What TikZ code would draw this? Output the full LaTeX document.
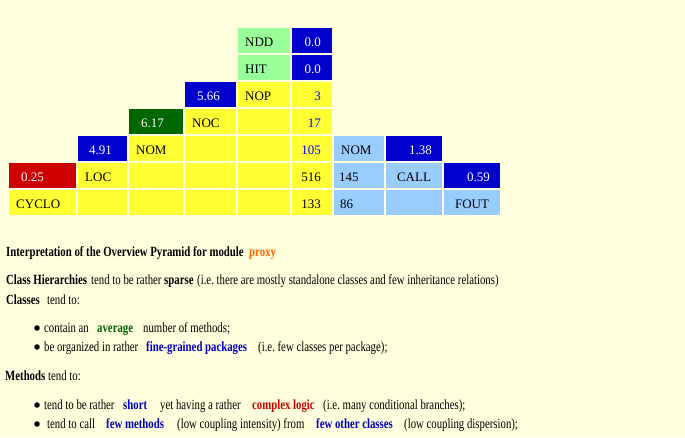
\documentclass[tikz,border=0pt]{standalone}
\usepackage{fontspec}
\setmainfont{Liberation Serif}
\newfontfamily\notefont[FakeStretch=0.77]{Liberation Serif}
\usetikzlibrary{positioning}
\frenchspacing

\definecolor{pagebg}{HTML}{FFFFDD}
\definecolor{cellyellow}{HTML}{FFFF33}
\definecolor{cellgreen}{HTML}{99FF99}
\definecolor{cellblue}{HTML}{0000CC}
\definecolor{celldkgreen}{HTML}{006600}
\definecolor{cellred}{HTML}{CC0000}
\definecolor{cellltblue}{HTML}{99CCFF}
\definecolor{numblue}{HTML}{0000FF}
\definecolor{wordorange}{HTML}{FF6600}
\definecolor{wordgreen}{HTML}{006600}
\definecolor{wordblue}{HTML}{0000CC}
\definecolor{wordred}{HTML}{CC0000}

\tikzset{
  cell/.style={anchor=north west, minimum height=25pt, inner sep=0pt, outer sep=0pt},
  celltext/.style={inner sep=0pt, font=\fontsize{13}{15}\selectfont},
  note/.style={anchor=base west, inner sep=0pt, font=\notefont\fontsize{14}{16}\selectfont},
  notebold/.style={note, font=\notefont\fontsize{14}{16}\selectfont\bfseries},
  dot/.style={circle, fill=black, inner sep=0pt, minimum size=5.6pt},
}

\begin{document}
\begin{tikzpicture}[x=1pt, y=-1pt]
\fill[pagebg] (0,0) rectangle (685,437);
\useasboundingbox (0,0) rectangle (685,437);
% column left edges and widths of the pyramid
\def\colx{{9,78,129,185,238,292,334,386,444}}
\def\colw{{67,49,54,51,52,40,50,56,56}}
% pyramid cells
\foreach \c/\r/\clr in {4/0/cellgreen,5/0/cellblue,
    4/1/cellgreen,5/1/cellblue,
    3/2/cellblue,4/2/cellyellow,5/2/cellyellow,
    2/3/celldkgreen,3/3/cellyellow,4/3/cellyellow,5/3/cellyellow,
    1/4/cellblue,2/4/cellyellow,3/4/cellyellow,4/4/cellyellow,5/4/cellyellow,6/4/cellltblue,7/4/cellblue,
    0/5/cellred,1/5/cellyellow,2/5/cellyellow,3/5/cellyellow,4/5/cellyellow,5/5/cellyellow,6/5/cellltblue,7/5/cellltblue,8/5/cellblue,
    0/6/cellyellow,1/6/cellyellow,2/6/cellyellow,3/6/cellyellow,4/6/cellyellow,5/6/cellyellow,6/6/cellltblue,7/6/cellltblue,8/6/cellltblue} {
  \pgfmathsetmacro{\cx}{\colx[\c]}
  \pgfmathsetmacro{\cw}{\colw[\c]}
  \node[cell, fill=\clr, minimum width=\cw pt] (c\c\r) at (\cx,28+27*\r) {};
}
% left aligned labels
\foreach \nm/\dx/\txt/\tc in {40/7/NDD/black,41/7/HIT/black,42/7/NOP/black,33/7/NOC/black,
    24/7/NOM/black,15/7/LOC/black,06/7/CYCLO/black,64/7/NOM/black,65/5/145/black,66/6/86/black,
    05/12/0.25/white,14/11/4.91/white,23/12/6.17/white,32/12/5.66/white} {
  \node[celltext, text=\tc, anchor=base west] (t\nm) at ([shift={(\dx,18)}]c\nm.north west) {\txt};
}
% right aligned values
\foreach \nm/\dx/\txt/\tc in {50/11/0.0/white,51/11/0.0/white,52/11/3/numblue,53/11/17/numblue,
    54/11/105/numblue,55/11/516/black,56/11/133/black,74/10/1.38/white,85/10/0.59/white} {
  \node[celltext, text=\tc, anchor=base east] (t\nm) at ([shift={(-\dx,18)}]c\nm.north east) {\txt};
}
% centred labels
\foreach \nm/\txt in {75/CALL,86/FOUT} {
  \node[celltext, anchor=base] (t\nm) at ([shift={(0,18)}]c\nm.north) {\txt};
}
% interpretation
\node[notebold] (head) at (6,256) {Interpretation of the Overview Pyramid for module};
\node[notebold, text=wordorange] (modname) at (249,256) {proxy};
\node[notebold] (hier) at (6,284) {Class Hierarchies};
\node[note] (hierA) at (91,284) {tend to be rather};
\node[notebold] (hierB) at (164,284) {sparse};
\node[note] (hierC) at (197,284) {(i.e. there are mostly standalone classes and few inheritance relations)};
\node[notebold] (cls) at (6,304) {Classes};
\node[note] (clsA) at (47,304) {tend to:};
\node[dot] (b1) at (37,328) {};
\node[note] (c1A) at (44,332) {contain an};
\node[notebold, text=wordgreen] (c1B) at (97,332) {average};
\node[note] (c1C) at (143,332) {number of methods;};
\node[dot] (b2) at (37,347) {};
\node[note] (c2A) at (44,351) {be organized in rather};
\node[notebold, text=wordblue] (c2B) at (146,351) {fine-grained packages};
\node[note] (c2C) at (258,351) {(i.e. few classes per package);};
\node[notebold] (meth) at (5,380) {Methods};
\node[note] (methA) at (48,380) {tend to:};
\node[dot] (b3) at (37,405) {};
\node[note] (m1A) at (44,409) {tend to be rather};
\node[notebold, text=wordblue] (m1B) at (123,409) {short};
\node[note] (m1C) at (160,409) {yet having a rather};
\node[notebold, text=wordred] (m1D) at (252,409) {complex logic};
\node[note] (m1E) at (323,409) {(i.e. many conditional branches);};
\node[dot] (b4) at (37,424) {};
\node[note] (m2A) at (47,428) {tend to call};
\node[notebold, text=wordblue] (m2B) at (106,428) {few methods};
\node[note] (m2C) at (177,428) {(low coupling intensity) from};
\node[notebold, text=wordblue] (m2D) at (316,428) {few other classes};
\node[note] (m2E) at (404,428) {(low coupling dispersion);};
\end{tikzpicture}
\end{document}
